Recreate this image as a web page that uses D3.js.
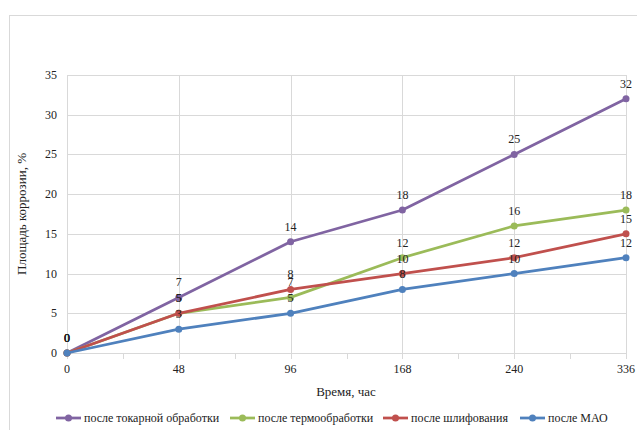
<!DOCTYPE html>
<html>
<head>
<meta charset="utf-8">
<script src="https://d3js.org/d3.v7.min.js"></script>
</head>
<body style="margin:0">
<svg id="chart" width="637" height="430"></svg>
<script>
// Данные графика
var hours = ["0", "48", "96", "168", "240", "336"];
var yTicks = [0, 5, 10, 15, 20, 25, 30, 35];
var seriesNames = ["после токарной обработки", "после термообработки", "после шлифования", "после МАО"];
var turning = [0, 7, 14, 18, 25, 32];
var heatTreat = [0, 5, 7, 12, 16, 18];
var grinding = [0, 5, 8, 10, 12, 15];
var mao = [0, 3, 5, 8, 10, 12];
var colors = ["#8064A2", "#9BBB59", "#C0504D", "#4F81BD"];

var series = [turning, heatTreat, grinding, mao].map(function(v, i) {
    return { name: seriesNames[i], values: v, color: colors[i] };
});

var svg = d3.select("#chart");

// Подпись с засечным шрифтом
function label(xp, yp, size, txt, anchor) {
    return svg.append("text")
        .attr("x", xp).attr("y", yp)
        .attr("text-anchor", anchor || "middle")
        .attr("fill", "#222")
        .style("font", size + "px 'Liberation Serif'")
        .text(txt);
}

// Рамка области диаграммы
svg.append("rect")
    .attr("x", 9.5).attr("y", 15.5)
    .attr("width", 700).attr("height", 500)
    .attr("fill", "none").attr("stroke", "#d9d9d9");

var x = d3.scalePoint().domain(hours).range([67, 626]);
var y = d3.scaleLinear().domain([0, 35]).range([353, 75]);

// Горизонтальная сетка
svg.append("g").selectAll("line")
    .data(yTicks)
    .enter().append("line")
    .attr("x1", 67).attr("x2", 626)
    .attr("y1", function(d) { return Math.round(y(d)) + 0.5; })
    .attr("y2", function(d) { return Math.round(y(d)) + 0.5; })
    .attr("stroke", "#d9d9d9").attr("stroke-width", 1);

// Вертикальная сетка
svg.append("g").selectAll("line")
    .data(hours)
    .enter().append("line")
    .attr("x1", function(d) { return Math.round(x(d)) + 0.5; })
    .attr("x2", function(d) { return Math.round(x(d)) + 0.5; })
    .attr("y1", y(35)).attr("y2", y(0) + 6)
    .attr("stroke", "#d9d9d9").attr("stroke-width", 1);

// Промежуточные деления оси X
var mids = d3.pairs(hours).map(function(p) { return (x(p[0]) + x(p[1])) / 2; });
svg.append("g").selectAll("line")
    .data(mids)
    .enter().append("line")
    .attr("x1", function(d) { return Math.round(d) + 0.5; })
    .attr("x2", function(d) { return Math.round(d) + 0.5; })
    .attr("y1", y(0)).attr("y2", y(0) + 6)
    .attr("stroke", "#d9d9d9");

// Подписи делений
yTicks.forEach(function(t) { label(57, y(t) + 4, 12, t, "end"); });
hours.forEach(function(h) { label(x(h), y(0) + 20, 12, h); });

label(346, 396, 13, "Время, час");
label(0, 0, 13, "Площадь коррозии, %")
    .attr("transform", "translate(26,214) rotate(-90)");

// Линии и маркеры
var line = d3.line()
    .x(function(d, i) { return x(hours[i]); })
    .y(function(d) { return y(d); });

series.forEach(function(s) {
    var g = svg.append("g");
    g.append("path")
        .attr("d", line(s.values))
        .attr("fill", "none")
        .attr("stroke", s.color)
        .attr("stroke-width", 2.75)
        .attr("stroke-linejoin", "round");
    g.selectAll("circle")
        .data(s.values)
        .enter().append("circle")
        .attr("cx", function(d, i) { return x(hours[i]); })
        .attr("cy", function(d) { return y(d); })
        .attr("r", 3.5)
        .attr("fill", s.color);
});

// Подписи значений
series.forEach(function(s) {
    s.values.forEach(function(v, i) { label(x(hours[i]), y(v) - 11, 12, v); });
});

// Легенда
var legendX = [56, 230, 383, 520];
series.forEach(function(s, i) {
    var lx = legendX[i];
    svg.append("line")
        .attr("x1", lx).attr("x2", lx + 25)
        .attr("y1", 418).attr("y2", 418)
        .attr("stroke", s.color)
        .attr("stroke-width", 2.75);
    svg.append("circle")
        .attr("cx", lx + 12.5).attr("cy", 418).attr("r", 3.5)
        .attr("fill", s.color);
    label(lx + 28, 422, 12, s.name, "start");
});
</script>
</body>
</html>
